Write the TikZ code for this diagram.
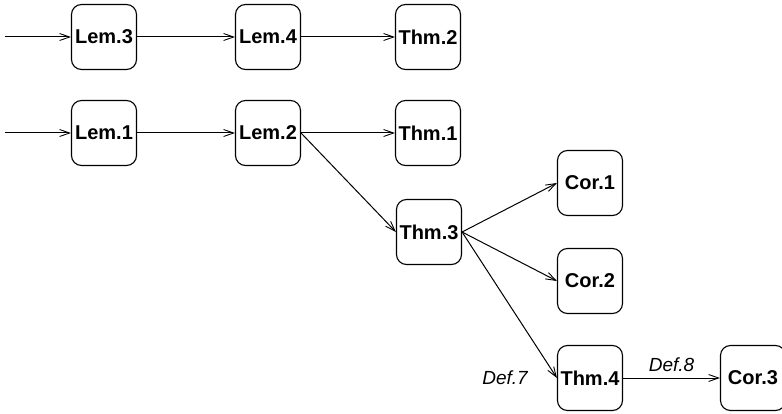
\documentclass[tikz,border=0pt]{standalone}
\usepackage{fontspec}
\setmainfont{Liberation Sans}
\usetikzlibrary{arrows.meta}
\begin{document}
\begin{tikzpicture}[x=1pt,y=-1pt,
  box/.style={draw,line width=1.1pt,rounded corners=10pt,minimum width=65pt,minimum height=65pt,inner sep=0pt,font=\fontsize{20}{24}\selectfont\bfseries},
  lbl/.style={font=\fontsize{19}{22}\selectfont\itshape,inner sep=0pt},
  conn/.style={line width=1pt,-{Straight Barb[length=10pt,width=7pt,line width=0.9pt]}}]
\useasboundingbox (0,0) rectangle (782,414);
\node[box] (lem3) at (104,37) {Lem.3};
\node[box] (lem4) at (268,37) {Lem.4};
\node[box] (thm2) at (428,37) {Thm.2};
\node[box] (lem1) at (104,133) {Lem.1};
\node[box] (lem2) at (268,133) {Lem.2};
\node[box] (thm1) at (428,133) {Thm.1};
\node[box] (cor1) at (590,183) {Cor.1};
\node[box] (thm3) at (429,232) {Thm.3};
\node[box] (cor2) at (590,281) {Cor.2};
\node[box] (thm4) at (590,378) {Thm.4};
\node[box] (cor3) at (753,378) {Cor.3};
\coordinate (in3) at (5,37);
\coordinate (in1) at (5,133);
\draw[conn] (in3) -- (lem3);
\draw[conn] (in1) -- (lem1);
\draw[conn] (lem3) -- (lem4);
\draw[conn] (lem4) -- (thm2);
\draw[conn] (lem1) -- (lem2);
\draw[conn] (lem2) -- (thm1);
\draw[conn] (lem2.east) -- (thm3.west);
\draw[conn] (thm3.east) -- (cor1.west);
\draw[conn] (thm3.east) -- (cor2.west);
\draw[conn] (thm3.east) -- (thm4.west);
\draw[conn] (thm4) -- node[lbl,above=6pt] (def8) {Def.8} (cor3);
\node[lbl] (def7) at (505,378) {Def.7};
\end{tikzpicture}
\end{document}
